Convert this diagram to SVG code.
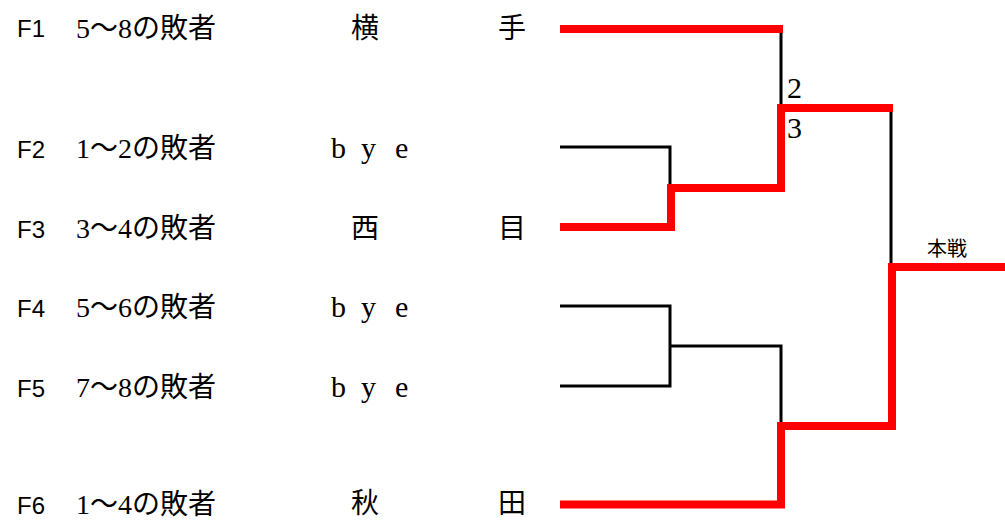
<svg xmlns="http://www.w3.org/2000/svg" width="1005" height="521" viewBox="0 0 1005 521">
<style>
.f{font-family:"Liberation Sans","Noto Sans",sans-serif;font-size:24px;fill:#000}
.t{font-family:"Liberation Serif","Noto Sans CJK JP",serif;font-size:28px;fill:#000}
.b{font-family:"Liberation Serif",serif;font-size:30px;fill:#000}
.n{font-family:"Noto Sans CJK JP",sans-serif;font-size:28px;fill:#000}
.s{font-family:"Noto Sans CJK JP",sans-serif;font-size:20px;fill:#000}
.k{fill:none;stroke:#000;stroke-width:3;stroke-linejoin:miter}
.r{fill:none;stroke:#ff0000;stroke-width:8;stroke-linejoin:miter;stroke-linecap:butt}
</style>
<rect width="1005" height="521" fill="#fff"/>
<g id="connectors">
<path class="k" d="M781 29V108"/>
<path class="k" d="M560 147H670V188"/>
<path class="k" d="M560 306H670V386H560"/>
<path class="k" d="M670 346H781V426"/>
<path class="k" d="M891 108V267"/>
<path class="r" d="M560 29H783"/>
<path class="r" d="M560 227H671V188H781V108H893"/>
<path class="r" d="M560 504.5H781V426H892V267H1005"/>
</g>
<g id="F1"><text class="f" x="17" y="37">F1</text><text class="t" x="76" y="38">5〜8の敗者</text><text class="n" x="351" y="38">横</text><text class="n" x="498" y="38">手</text></g>
<g id="F2"><text class="f" x="17" y="158">F2</text><text class="t" x="76" y="158">1〜2の敗者</text><text class="b" x="331" y="158">b</text><text class="b" x="361" y="158">y</text><text class="b" x="395" y="158">e</text></g>
<g id="F3"><text class="f" x="17" y="238">F3</text><text class="t" x="76" y="238">3〜4の敗者</text><text class="n" x="351" y="238">西</text><text class="n" x="498" y="238">目</text></g>
<g id="F4"><text class="f" x="17" y="317">F4</text><text class="t" x="76" y="317">5〜6の敗者</text><text class="b" x="331" y="317">b</text><text class="b" x="361" y="317">y</text><text class="b" x="395" y="317">e</text></g>
<g id="F5"><text class="f" x="17" y="397">F5</text><text class="t" x="76" y="397">7〜8の敗者</text><text class="b" x="331" y="397">b</text><text class="b" x="361" y="397">y</text><text class="b" x="395" y="397">e</text></g>
<g id="F6"><text class="f" x="17" y="514">F6</text><text class="t" x="76" y="514">1〜4の敗者</text><text class="n" x="351" y="513">秋</text><text class="n" x="498" y="513">田</text></g>
<g id="labels"><text class="b" x="787" y="98">2</text><text class="b" x="787" y="138">3</text><text class="s" x="927" y="256">本戦</text></g>
</svg>
